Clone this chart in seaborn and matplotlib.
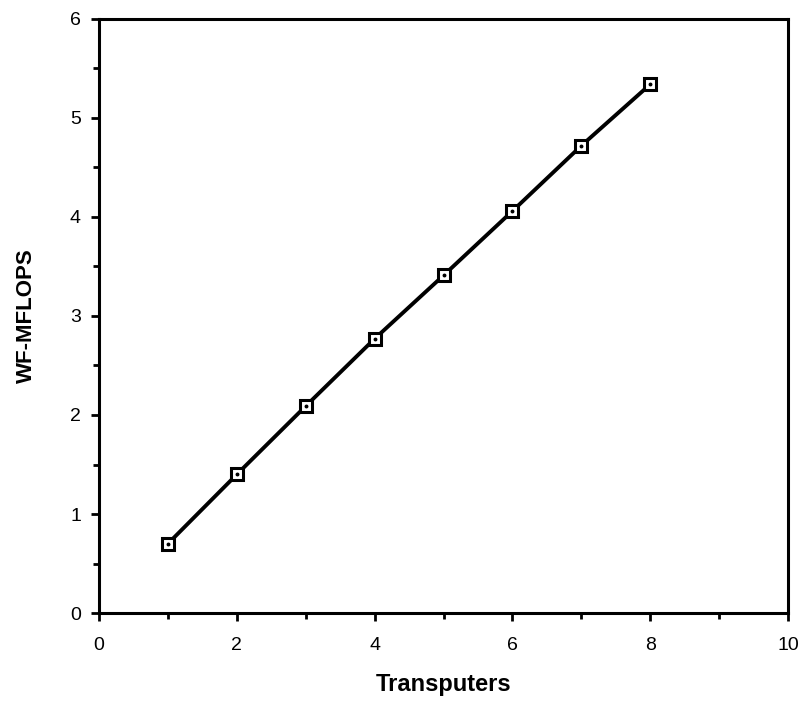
import numpy as np
import pandas as pd
import matplotlib
matplotlib.use("Agg")
import matplotlib.pyplot as plt
import seaborn as sns
from matplotlib.ticker import MultipleLocator

transputers = [1, 2, 3, 4, 5, 6, 7, 8]
mflops = [0.70, 1.40, 2.09, 2.77, 3.41, 4.06, 4.72, 5.34]

df = pd.DataFrame({"Transputers": transputers, "WF-MFLOPS": mflops})

sns.set_style("ticks")
plt.rcParams['font.family'] = ['Liberation Sans', 'DejaVu Sans']

fig, ax = plt.subplots(figsize=(8.05, 7.01), dpi=100)
fig.subplots_adjust(left=0.123, right=0.979, bottom=0.1255, top=0.973)

sns.lineplot(data=df, x="Transputers", y="WF-MFLOPS", ax=ax,
             color="black", linewidth=2.8, marker="s", markersize=9,
             markerfacecolor="white", markeredgecolor="black",
             markeredgewidth=2.2)
# little dot in the middle of each square
ax.plot(df["Transputers"], df["WF-MFLOPS"], linestyle="none", marker="o",
        markersize=1.8, color="black")

ax.set_xlim(0, 10)
ax.set_ylim(0, 6)
ax.xaxis.set_major_locator(MultipleLocator(2))
ax.xaxis.set_minor_locator(MultipleLocator(1))
ax.yaxis.set_major_locator(MultipleLocator(1))
ax.yaxis.set_minor_locator(MultipleLocator(0.5))

for side in ["left", "right", "top", "bottom"]:
    ax.spines[side].set_visible(True)
    ax.spines[side].set_linewidth(2.2)
    ax.spines[side].set_color("black")

ax.tick_params(axis="both", which="major", direction="out", length=6,
               width=2, labelsize=14, colors="black")
ax.tick_params(axis="x", which="major", pad=11)
ax.tick_params(axis="y", which="major", pad=7)
ax.tick_params(axis="both", which="minor", direction="out", length=4, width=2,
               colors="black")

ax.set_xlabel("Transputers", fontsize=17, fontweight="bold", labelpad=14,
              color="black")
ax.set_ylabel("WF-MFLOPS", fontsize=16, fontweight="bold", labelpad=24,
              color="black")

fig.savefig("out.png", dpi=100)
